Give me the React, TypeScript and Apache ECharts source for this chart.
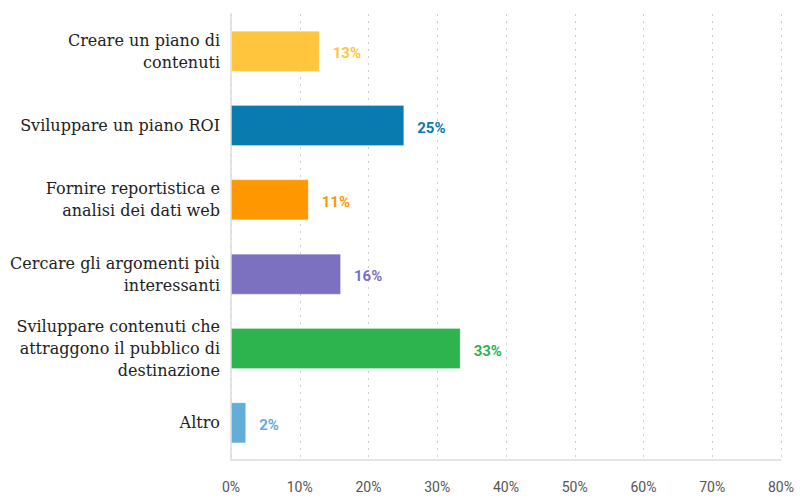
import React, { useEffect, useRef } from "react";
import * as echarts from "echarts";

const categories = [
  "Creare un piano di\ncontenuti",
  "Sviluppare un piano ROI",
  "Fornire reportistica e\nanalisi dei dati web",
  "Cercare gli argomenti più\ninteressanti",
  "Sviluppare contenuti che\nattraggono il pubblico di\ndestinazione",
  "Altro",
];
const values = [12.9, 25.2, 11.3, 16.0, 33.4, 2.2];
const labels = ["13%", "25%", "11%", "16%", "33%", "2%"];
const colors = ["#FFC63D", "#0A7BAF", "#FF9700", "#7C71C0", "#2EB44F", "#62AED8"];
const xTicks = [0, 10, 20, 30, 40, 50, 60, 70, 80];

export default function App() {
  const ref = useRef<HTMLDivElement>(null);
  useEffect(() => {
    if (!ref.current) return;
    const chart = echarts.init(ref.current, undefined, { renderer: "svg" });
    chart.setOption({
      animation: false,
      grid: { left: 231, right: 19, top: 14, bottom: 41, containLabel: false },
      xAxis: {
        type: "value",
        min: xTicks[0],
        max: xTicks[xTicks.length - 1],
        interval: 10,
        axisLine: { show: true, lineStyle: { color: "#dcdcdc", width: 1.5 } },
        axisTick: { show: false },
        axisLabel: {
          formatter: (v: number) => v + "%",
          color: "#555",
          fontFamily: "Roboto",
          fontSize: 14,
          margin: 20,
        },
        splitLine: { show: true, lineStyle: { color: "#cfcfcf", type: [2, 5], width: 1 } },
      },
      yAxis: {
        type: "category",
        inverse: true,
        data: categories,
        axisLine: { show: true, lineStyle: { color: "#dcdcdc", width: 1.5 } },
        axisTick: { show: false },
        axisLabel: {
          color: "#222",
          fontFamily: "DejaVu Serif",
          fontSize: 16,
          lineHeight: 22,
          margin: 11,
        },
      },
      series: [
        {
          type: "bar",
          barWidth: 41,
          data: values.map((v, i) => ({
            value: v,
            itemStyle: { color: colors[i], borderColor: "rgba(255,255,255,0.25)", borderWidth: 1 },
            label: {
              show: true,
              position: "right",
              distance: 13,
              offset: [0, 2],
              color: colors[i],
              fontFamily: "Roboto",
              fontWeight: "bold",
              fontSize: 15,
              formatter: () => labels[i],
            },
          })),
        },
      ],
    });
    return () => chart.dispose();
  }, []);
  return <div ref={ref} style={{ width: 800, height: 501, position: "absolute", left: 0, top: 0, background: "#fff" }} />;
}
